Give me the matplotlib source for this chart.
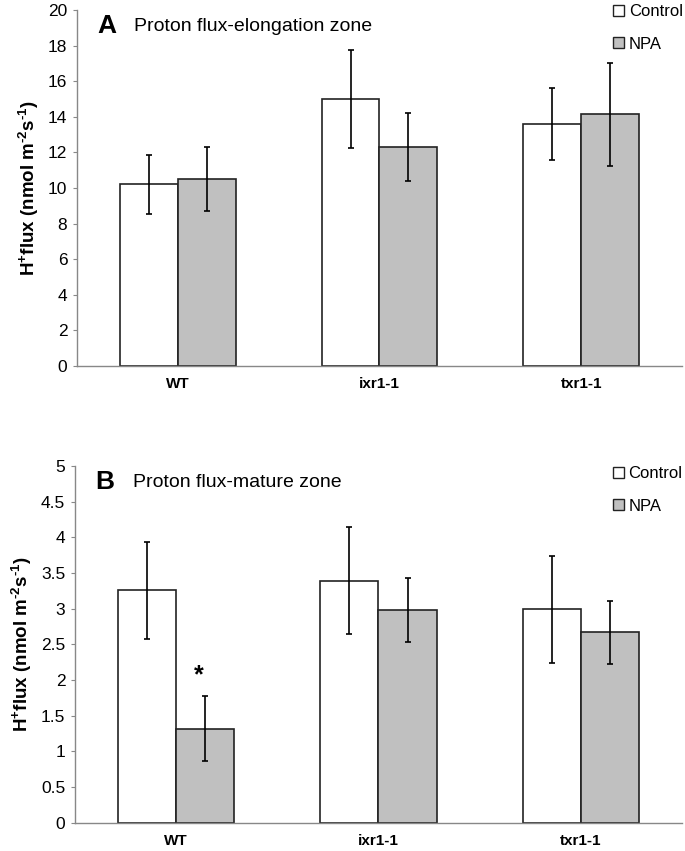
import numpy as np
import matplotlib
matplotlib.use("Agg")
import matplotlib.pyplot as plt
from matplotlib.patches import Patch

plt.rcParams['font.family'] = ['Liberation Sans', 'DejaVu Sans']
plt.rcParams['mathtext.fontset'] = 'custom'
plt.rcParams['mathtext.bf'] = 'Liberation Sans:bold'
plt.rcParams['mathtext.rm'] = 'Liberation Sans:bold'
plt.rcParams['mathtext.default'] = 'bf'
plt.rcParams['axes.unicode_minus'] = False

# data
genotypes = ["WT", "ixr1-1", "txr1-1"]

elong_control = [10.2, 15.0, 13.6]
elong_control_err = [1.67, 2.75, 2.0]
elong_npa = [10.5, 12.3, 14.15]
elong_npa_err = [1.8, 1.93, 2.9]

mature_control = [3.26, 3.39, 2.99]
mature_control_err = [0.68, 0.75, 0.75]
mature_npa = [1.32, 2.98, 2.67]
mature_npa_err = [0.45, 0.45, 0.44]

ylabel = r"H$^{+}$flux (nmol m$^{\text{-}2}$s$^{\text{-}1}$)"

fig = plt.figure(figsize=(6.85, 8.51), dpi=100)
axA = fig.add_axes([0.1124, 0.5699, 0.8832, 0.4183])
axB = fig.add_axes([0.1095, 0.0333, 0.8861, 0.4191])

x = np.arange(len(genotypes))
w = 0.287
gray = "#c0c0c0"
edge = "#222222"


def draw_panel(ax, ctrl, ctrl_err, npa, npa_err, ymax, ystep, letter, title, leg_y):
    ekw = dict(ecolor="black", elinewidth=1.2, capsize=2.4, capthick=1.2)
    ax.bar(x - w / 2, ctrl, w, color="white", edgecolor=edge, linewidth=1.2,
           yerr=ctrl_err, error_kw=ekw)
    ax.bar(x + w / 2, npa, w, color=gray, edgecolor=edge, linewidth=1.2,
           yerr=npa_err, error_kw=ekw)
    ax.set_xlim(-0.5, 2.5)
    ax.set_ylim(0, ymax)
    ticks = np.arange(0, ymax + ystep / 2, ystep)
    ax.set_yticks(ticks)
    ax.set_yticklabels([("%g" % t) for t in ticks], fontsize=12.5)
    ax.set_xticks(x)
    ax.set_xticklabels(genotypes, fontsize=11, fontweight="bold")
    ax.tick_params(axis="x", length=0, pad=8)
    ax.tick_params(axis="y", length=3, color="#888888", direction="out", pad=4)
    for s in ["top", "right"]:
        ax.spines[s].set_visible(False)
    for s in ["left", "bottom"]:
        ax.spines[s].set_color("#888888")
        ax.spines[s].set_linewidth(1.0)
    ax.set_ylabel(ylabel, fontsize=13.5, fontweight="bold", labelpad=5)
    ax.text(0.033, 0.955, letter, transform=ax.transAxes, fontsize=19,
            fontweight="bold", va="center", ha="left")
    ax.text(0.095, 0.955, title, transform=ax.transAxes, fontsize=14,
            va="center", ha="left")
    handles = [Patch(facecolor="white", edgecolor=edge, linewidth=1),
               Patch(facecolor=gray, edgecolor=edge, linewidth=1)]
    ax.legend(handles, ["Control", "NPA"], loc="upper left",
              bbox_to_anchor=(0.875, leg_y), frameon=False, fontsize=12,
              handlelength=0.65, handleheight=0.65, handletextpad=0.3,
              labelspacing=1.05, borderaxespad=0)


draw_panel(axA, elong_control, elong_control_err, elong_npa, elong_npa_err,
           20, 2, "A", "Proton flux-elongation zone", 1.035)
draw_panel(axB, mature_control, mature_control_err, mature_npa, mature_npa_err,
           5, 0.5, "B", "Proton flux-mature zone", 1.018)

# significance mark
axB.text(x[0] + w / 2 - 0.03, mature_npa[0] + mature_npa_err[0] + 0.3, "*",
         fontsize=18, fontweight="bold", ha="center", va="center")

fig.savefig("out.png", dpi=100)
